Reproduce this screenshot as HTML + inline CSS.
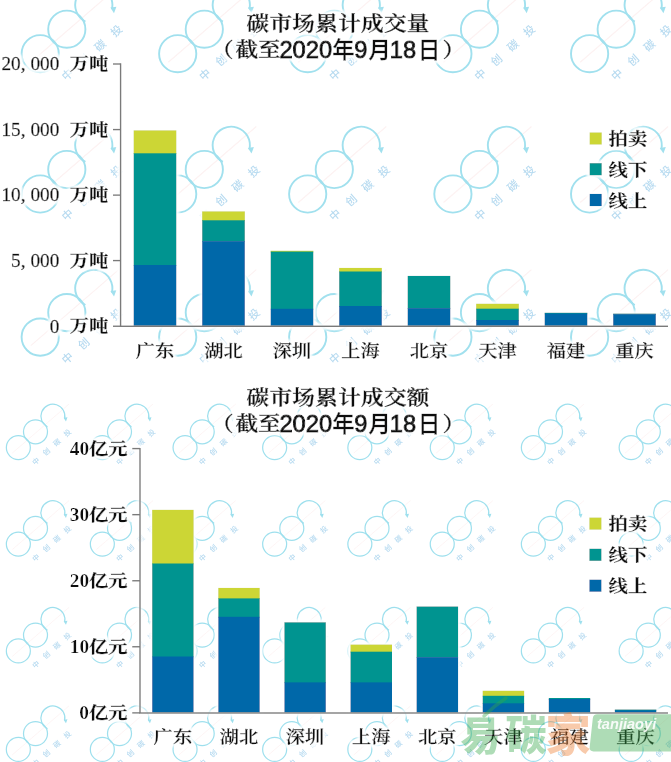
<!DOCTYPE html>
<html lang="zh-CN"><head><meta charset="utf-8"><title>碳市场累计成交量 / 成交额</title>
<style>html,body{margin:0;padding:0;background:#fff}svg{display:block}.s{font-family:"Liberation Serif","Noto Serif CJK SC",serif;fill:#111}.c{font-family:"Liberation Serif","Noto Serif CJK SC",serif;fill:#111}.g{font-family:"Liberation Sans","Noto Sans CJK SC",sans-serif;fill:#111}.fb{stroke:#111;stroke-width:1px}.fy{stroke:#111;stroke-width:.35px}.fs{stroke:#111;stroke-width:.45px}.ft{stroke:#111;stroke-width:.5px}.fc{stroke:#111;stroke-width:.3px}</style></head><body>
<svg width="671" height="762" viewBox="0 0 671 762">
<rect width="671" height="762" fill="#fff"/>
<defs>
<g id="wm"><line x1="-36" y1="33" x2="52" y2="-43" stroke="#fceeee" stroke-width="1.2"/><g fill="none" stroke="#86d8e9" stroke-width="1.9"><circle cx="-26.6" cy="24.5" r="18.6"/><circle cx="0" cy="0" r="18.6"/><path d="M 18.6 -7.6 A 18.6 18.6 0 1 1 45.1 -20.0"/></g><path d="M 43.6 -21.6 L 49.6 -22.4 L 47.2 -16.0 Z" fill="#86d8e9"/><text transform="translate(-0.8,52.1) rotate(-41.7)" font-family='"Liberation Sans","Noto Sans CJK SC",sans-serif' font-size="11" font-weight="500" fill="#a2d0ec" letter-spacing="10.9">中创碳投</text></g>
<filter id="halo" x="-5%" y="-5%" width="110%" height="110%"><feMorphology in="SourceAlpha" operator="dilate" radius="2.6" result="d"/><feGaussianBlur in="d" stdDeviation="1.2" result="b"/><feFlood flood-color="#fff" flood-opacity="0.9"/><feComposite in2="b" operator="in" result="w"/><feMerge><feMergeNode in="w"/><feMergeNode in="SourceGraphic"/></feMerge></filter>
<clipPath id="c1"><rect x="0" y="0" width="671" height="368"/></clipPath>
<clipPath id="c2"><rect x="0" y="392" width="671" height="370"/></clipPath>
</defs>
<g clip-path="url(#c1)" opacity="0.78">
<use href="#wm" x="66.8" y="29.2"/>
<use href="#wm" x="204.3" y="29.2"/>
<use href="#wm" x="334.3" y="29.2"/>
<use href="#wm" x="479.5" y="29.2"/>
<use href="#wm" x="616.2" y="29.2"/>
<use href="#wm" x="66.8" y="169.5"/>
<use href="#wm" x="204.3" y="169.5"/>
<use href="#wm" x="334.3" y="169.5"/>
<use href="#wm" x="479.5" y="169.5"/>
<use href="#wm" x="616.2" y="169.5"/>
<use href="#wm" x="66.8" y="312.6"/>
<use href="#wm" x="204.3" y="312.6"/>
<use href="#wm" x="334.3" y="312.6"/>
<use href="#wm" x="479.5" y="312.6"/>
<use href="#wm" x="616.2" y="312.6"/>
</g>
<g clip-path="url(#c2)" opacity="0.8">
<use href="#wm" transform="translate(35.5,431.8) scale(0.645)"/>
<use href="#wm" transform="translate(119.5,431.8) scale(0.645)"/>
<use href="#wm" transform="translate(202.2,431.8) scale(0.645)"/>
<use href="#wm" transform="translate(291.8,431.8) scale(0.645)"/>
<use href="#wm" transform="translate(377.0,431.8) scale(0.645)"/>
<use href="#wm" transform="translate(459.4,431.8) scale(0.645)"/>
<use href="#wm" transform="translate(550.5,431.8) scale(0.645)"/>
<use href="#wm" transform="translate(648.3,431.8) scale(0.645)"/>
<use href="#wm" transform="translate(35.5,528.3) scale(0.645)"/>
<use href="#wm" transform="translate(119.5,528.3) scale(0.645)"/>
<use href="#wm" transform="translate(202.2,528.3) scale(0.645)"/>
<use href="#wm" transform="translate(291.8,528.3) scale(0.645)"/>
<use href="#wm" transform="translate(377.0,528.3) scale(0.645)"/>
<use href="#wm" transform="translate(459.4,528.3) scale(0.645)"/>
<use href="#wm" transform="translate(550.5,528.3) scale(0.645)"/>
<use href="#wm" transform="translate(648.3,528.3) scale(0.645)"/>
<use href="#wm" transform="translate(35.5,635.1) scale(0.645)"/>
<use href="#wm" transform="translate(119.5,635.1) scale(0.645)"/>
<use href="#wm" transform="translate(202.2,635.1) scale(0.645)"/>
<use href="#wm" transform="translate(291.8,635.1) scale(0.645)"/>
<use href="#wm" transform="translate(377.0,635.1) scale(0.645)"/>
<use href="#wm" transform="translate(459.4,635.1) scale(0.645)"/>
<use href="#wm" transform="translate(550.5,635.1) scale(0.645)"/>
<use href="#wm" transform="translate(648.3,635.1) scale(0.645)"/>
<use href="#wm" transform="translate(35.5,733.6) scale(0.645)"/>
<use href="#wm" transform="translate(119.5,733.6) scale(0.645)"/>
<use href="#wm" transform="translate(202.2,733.6) scale(0.645)"/>
<use href="#wm" transform="translate(291.8,733.6) scale(0.645)"/>
<use href="#wm" transform="translate(377.0,733.6) scale(0.645)"/>
<use href="#wm" transform="translate(459.4,733.6) scale(0.645)"/>
<use href="#wm" transform="translate(550.5,733.6) scale(0.645)"/>
<use href="#wm" transform="translate(648.3,733.6) scale(0.645)"/>
</g>
<g filter="url(#halo)">
<rect x="133.6" y="130.3" width="42.8" height="23.7" fill="#ccd634"/>
<rect x="133.6" y="153.3" width="42.8" height="112.4" fill="#009490"/>
<rect x="133.6" y="265.0" width="42.8" height="60.8" fill="#0268a9"/>
<rect x="202.1" y="211.3" width="42.8" height="9.7" fill="#ccd634"/>
<rect x="202.1" y="220.3" width="42.8" height="21.5" fill="#009490"/>
<rect x="202.1" y="241.1" width="42.8" height="84.7" fill="#0268a9"/>
<rect x="270.6" y="250.7" width="42.8" height="1.6" fill="#ccd634"/>
<rect x="270.6" y="251.6" width="42.8" height="57.9" fill="#009490"/>
<rect x="270.6" y="308.8" width="42.8" height="17.0" fill="#0268a9"/>
<rect x="339.1" y="267.9" width="42.8" height="4.3" fill="#ccd634"/>
<rect x="339.1" y="271.5" width="42.8" height="35.2" fill="#009490"/>
<rect x="339.1" y="306.0" width="42.8" height="19.8" fill="#0268a9"/>
<rect x="407.6" y="275.9" width="42.8" height="32.9" fill="#009490"/>
<rect x="407.6" y="308.1" width="42.8" height="17.7" fill="#0268a9"/>
<rect x="476.1" y="303.7" width="42.8" height="5.7" fill="#ccd634"/>
<rect x="476.1" y="308.7" width="42.8" height="12.0" fill="#009490"/>
<rect x="476.1" y="320.0" width="42.8" height="5.8" fill="#0268a9"/>
<rect x="544.6" y="312.7" width="42.8" height="1.5" fill="#009490"/>
<rect x="544.6" y="313.5" width="42.8" height="12.3" fill="#0268a9"/>
<rect x="613.1" y="313.5" width="42.8" height="1.4" fill="#009490"/>
<rect x="613.1" y="314.2" width="42.8" height="11.6" fill="#0268a9"/>
<path d="M 120.6 63.3 V 326.2 H 668.0" fill="none" stroke="#7a7a7a" stroke-width="1.5"/>
<path d="M 113.0 64.0 H 120.6" stroke="#7a7a7a" stroke-width="1.5"/>
<path d="M 113.0 129.6 H 120.6" stroke="#7a7a7a" stroke-width="1.5"/>
<path d="M 113.0 195.1 H 120.6" stroke="#7a7a7a" stroke-width="1.5"/>
<path d="M 113.0 260.6 H 120.6" stroke="#7a7a7a" stroke-width="1.5"/>
<path d="M 113.0 326.2 H 120.6" stroke="#7a7a7a" stroke-width="1.5"/>
<rect x="589.6" y="132.4" width="12.2" height="12.2" fill="#ccd634"/>
<rect x="589.6" y="163.1" width="12.2" height="12.2" fill="#009490"/>
<rect x="589.6" y="193.9" width="12.2" height="12.2" fill="#0268a9"/>
<rect x="152.1" y="509.8" width="41.6" height="54.4" fill="#ccd634"/>
<rect x="152.1" y="563.5" width="41.6" height="93.7" fill="#009490"/>
<rect x="152.1" y="656.5" width="41.6" height="56.0" fill="#0268a9"/>
<rect x="218.2" y="587.9" width="41.6" height="11.2" fill="#ccd634"/>
<rect x="218.2" y="598.4" width="41.6" height="19.1" fill="#009490"/>
<rect x="218.2" y="616.8" width="41.6" height="95.7" fill="#0268a9"/>
<rect x="284.3" y="622.2" width="41.6" height="60.9" fill="#009490"/>
<rect x="284.3" y="682.4" width="41.6" height="30.1" fill="#0268a9"/>
<rect x="350.4" y="644.5" width="41.6" height="7.9" fill="#ccd634"/>
<rect x="350.4" y="651.7" width="41.6" height="31.4" fill="#009490"/>
<rect x="350.4" y="682.4" width="41.6" height="30.1" fill="#0268a9"/>
<rect x="416.5" y="606.4" width="41.6" height="51.4" fill="#009490"/>
<rect x="416.5" y="657.1" width="41.6" height="55.4" fill="#0268a9"/>
<rect x="482.6" y="690.7" width="41.6" height="5.8" fill="#ccd634"/>
<rect x="482.6" y="695.8" width="41.6" height="8.2" fill="#009490"/>
<rect x="482.6" y="703.3" width="41.6" height="9.2" fill="#0268a9"/>
<rect x="548.7" y="698.0" width="41.6" height="1.7" fill="#009490"/>
<rect x="548.7" y="699.0" width="41.6" height="13.5" fill="#0268a9"/>
<rect x="614.8" y="709.4" width="41.6" height="1.7" fill="#009490"/>
<rect x="614.8" y="710.4" width="41.6" height="2.1" fill="#0268a9"/>
<path d="M 140.0 447.9 V 712.9 H 668.0" fill="none" stroke="#7a7a7a" stroke-width="1.5"/>
<path d="M 132.2 448.6 H 140.0" stroke="#7a7a7a" stroke-width="1.5"/>
<path d="M 132.2 514.7 H 140.0" stroke="#7a7a7a" stroke-width="1.5"/>
<path d="M 132.2 580.8 H 140.0" stroke="#7a7a7a" stroke-width="1.5"/>
<path d="M 132.2 646.8 H 140.0" stroke="#7a7a7a" stroke-width="1.5"/>
<path d="M 132.2 712.9 H 140.0" stroke="#7a7a7a" stroke-width="1.5"/>
<rect x="589.3" y="517.5" width="12.2" height="12.2" fill="#ccd634"/>
<rect x="589.3" y="548.7" width="12.2" height="12.2" fill="#009490"/>
<rect x="589.3" y="579.6" width="12.2" height="12.2" fill="#0268a9"/>
<text class="c fc" transform="translate(69.7,70.0) scale(1,0.90)" font-size="19.3" font-weight="700">万吨</text>
<text class="s fs" x="1.4 11.1 20.7 30.4 40.0 49.7" y="70.3" font-size="19.3">20,000</text>
<text class="c fc" transform="translate(69.7,135.6) scale(1,0.90)" font-size="19.3" font-weight="700">万吨</text>
<text class="s fs" x="1.4 11.1 20.7 30.4 40.0 49.7" y="135.9" font-size="19.3">15,000</text>
<text class="c fc" transform="translate(69.7,201.1) scale(1,0.90)" font-size="19.3" font-weight="700">万吨</text>
<text class="s fs" x="1.4 11.1 20.7 30.4 40.0 49.7" y="201.4" font-size="19.3">10,000</text>
<text class="c fc" transform="translate(69.7,266.6) scale(1,0.90)" font-size="19.3" font-weight="700">万吨</text>
<text class="s fs" x="11.1 20.7 30.4 40.0 49.7" y="266.9" font-size="19.3">5,000</text>
<text class="c fc" transform="translate(69.7,332.2) scale(1,0.90)" font-size="19.3" font-weight="700">万吨</text>
<text class="s fs" x="49.7" y="332.5" font-size="19.3">0</text>
<text class="c fc" transform="translate(155.0,356.5) scale(1,0.90)" font-size="19.3" font-weight="600" text-anchor="middle">广东</text>
<text class="c fc" transform="translate(223.5,356.5) scale(1,0.90)" font-size="19.3" font-weight="600" text-anchor="middle">湖北</text>
<text class="c fc" transform="translate(292.0,356.5) scale(1,0.90)" font-size="19.3" font-weight="600" text-anchor="middle">深圳</text>
<text class="c fc" transform="translate(360.5,356.5) scale(1,0.90)" font-size="19.3" font-weight="600" text-anchor="middle">上海</text>
<text class="c fc" transform="translate(429.0,356.5) scale(1,0.90)" font-size="19.3" font-weight="600" text-anchor="middle">北京</text>
<text class="c fc" transform="translate(497.5,356.5) scale(1,0.90)" font-size="19.3" font-weight="600" text-anchor="middle">天津</text>
<text class="c fc" transform="translate(566.0,356.5) scale(1,0.90)" font-size="19.3" font-weight="600" text-anchor="middle">福建</text>
<text class="c fc" transform="translate(634.5,356.5) scale(1,0.90)" font-size="19.3" font-weight="600" text-anchor="middle">重庆</text>
<text class="c ft" transform="translate(246.6,30.8) scale(1,0.90)" font-size="22.6" font-weight="600" letter-spacing="0.3">碳市场累计成交量</text>
<text class="c ft" transform="translate(211.1,57.3) scale(1,0.90)" font-size="22.6" font-weight="600">（</text>
<text class="c ft" transform="translate(235.5,57.3) scale(1,0.90)" font-size="22.6" font-weight="600">截至</text>
<text class="c ft" transform="translate(442.4,57.3) scale(1,0.90)" font-size="22.6" font-weight="600">）</text>
<text y="58.0"><tspan class="g fb" x="279.4" font-size="23.7">2020</tspan><tspan class="g fy" x="332.2" font-size="22.3" font-weight="500">年</tspan><tspan class="g fb" x="354.2" font-size="23.7">9</tspan><tspan class="g fy" x="368.4" font-size="22.3" font-weight="500">月</tspan><tspan class="g fb" x="389.8" font-size="23.7">18</tspan><tspan class="g fy" x="417.9" font-size="22.3" font-weight="500">日</tspan></text>
<text class="c fc" transform="translate(608.6,145.0) scale(1,0.90)" font-size="19.3" font-weight="700">拍卖</text>
<text class="c fc" transform="translate(608.6,175.7) scale(1,0.90)" font-size="19.3" font-weight="700">线下</text>
<text class="c fc" transform="translate(608.6,206.5) scale(1,0.90)" font-size="19.3" font-weight="700">线上</text>
<text class="c fc" transform="translate(89.0,454.7) scale(1,0.90)" font-size="19.3" font-weight="700">亿元</text>
<text class="s" x="69.7 79.4" y="455.1" font-size="19.3" font-weight="700">40</text>
<text class="c fc" transform="translate(89.0,520.8) scale(1,0.90)" font-size="19.3" font-weight="700">亿元</text>
<text class="s" x="69.7 79.4" y="521.2" font-size="19.3" font-weight="700">30</text>
<text class="c fc" transform="translate(89.0,586.9) scale(1,0.90)" font-size="19.3" font-weight="700">亿元</text>
<text class="s" x="69.7 79.4" y="587.2" font-size="19.3" font-weight="700">20</text>
<text class="c fc" transform="translate(89.0,652.9) scale(1,0.90)" font-size="19.3" font-weight="700">亿元</text>
<text class="s" x="69.7 79.4" y="653.3" font-size="19.3" font-weight="700">10</text>
<text class="c fc" transform="translate(89.0,719.0) scale(1,0.90)" font-size="19.3" font-weight="700">亿元</text>
<text class="s" x="79.3" y="719.4" font-size="19.3" font-weight="700">0</text>
<text class="c fc" transform="translate(172.9,742.9) scale(1,0.90)" font-size="19.3" font-weight="600" text-anchor="middle">广东</text>
<text class="c fc" transform="translate(239.0,742.9) scale(1,0.90)" font-size="19.3" font-weight="600" text-anchor="middle">湖北</text>
<text class="c fc" transform="translate(305.1,742.9) scale(1,0.90)" font-size="19.3" font-weight="600" text-anchor="middle">深圳</text>
<text class="c fc" transform="translate(371.2,742.9) scale(1,0.90)" font-size="19.3" font-weight="600" text-anchor="middle">上海</text>
<text class="c fc" transform="translate(437.3,742.9) scale(1,0.90)" font-size="19.3" font-weight="600" text-anchor="middle">北京</text>
<text class="c fc" transform="translate(503.4,742.9) scale(1,0.90)" font-size="19.3" font-weight="600" text-anchor="middle">天津</text>
<text class="c fc" transform="translate(569.5,742.9) scale(1,0.90)" font-size="19.3" font-weight="600" text-anchor="middle">福建</text>
<text class="c fc" transform="translate(635.6,742.9) scale(1,0.90)" font-size="19.3" font-weight="600" text-anchor="middle">重庆</text>
<text class="c ft" transform="translate(246.6,404.5) scale(1,0.90)" font-size="22.6" font-weight="600" letter-spacing="0.3">碳市场累计成交额</text>
<text class="c ft" transform="translate(211.1,431.0) scale(1,0.90)" font-size="22.6" font-weight="600">（</text>
<text class="c ft" transform="translate(235.5,431.0) scale(1,0.90)" font-size="22.6" font-weight="600">截至</text>
<text class="c ft" transform="translate(442.4,431.0) scale(1,0.90)" font-size="22.6" font-weight="600">）</text>
<text y="431.7"><tspan class="g fb" x="279.4" font-size="23.7">2020</tspan><tspan class="g fy" x="332.2" font-size="22.3" font-weight="500">年</tspan><tspan class="g fb" x="354.2" font-size="23.7">9</tspan><tspan class="g fy" x="368.4" font-size="22.3" font-weight="500">月</tspan><tspan class="g fb" x="389.8" font-size="23.7">18</tspan><tspan class="g fy" x="417.9" font-size="22.3" font-weight="500">日</tspan></text>
<text class="c fc" transform="translate(608.6,530.1) scale(1,0.90)" font-size="19.3" font-weight="700">拍卖</text>
<text class="c fc" transform="translate(608.6,561.3) scale(1,0.90)" font-size="19.3" font-weight="700">线下</text>
<text class="c fc" transform="translate(608.6,592.2) scale(1,0.90)" font-size="19.3" font-weight="700">线上</text>
</g>
<g opacity="0.4">
<path d="M 484 716 C 492 708 500 702 506 698" fill="none" stroke="#35a84a" stroke-width="3.4" stroke-linecap="round"/>
<text x="460.5" y="750" font-family='"Liberation Sans","Noto Sans CJK SC",sans-serif' font-weight="900" font-size="40" fill="#35a84a">易</text>
<text x="505.5" y="749.5" font-family='"Liberation Sans","Noto Sans CJK SC",sans-serif' font-weight="900" font-size="41" fill="#35a84a">碳</text>
<text x="545.5" y="751.5" font-family='"Liberation Sans","Noto Sans CJK SC",sans-serif' font-weight="900" font-size="45" fill="#ee7b2e">家</text>
<path d="M 597.4 714.2 H 680 V 751.4 H 593.6 Q 589.2 751.4 589.7 747 L 592.8 718.2 Q 593.2 714.2 597.4 714.2 Z" fill="#35a84a"/>
</g>
<text x="597" y="729.3" font-family='"Liberation Sans",sans-serif' font-style="italic" font-weight="700" font-size="14.6" fill="#fff" opacity="0.9">tanjiaoyi</text>
</svg></body></html>
